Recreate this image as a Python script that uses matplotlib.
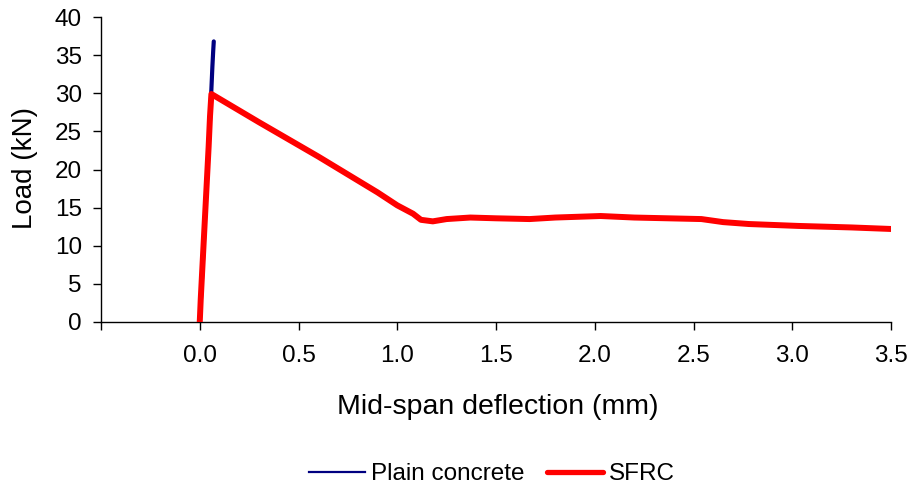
import matplotlib
matplotlib.use("Agg")
import matplotlib.pyplot as plt
from matplotlib.lines import Line2D

plt.rcParams['font.family'] = ['Liberation Sans', 'DejaVu Sans']

plain_x = [0.0, 0.01, 0.02, 0.03, 0.04, 0.05, 0.058, 0.064, 0.068, 0.071]
plain_y = [0.0, 5.0, 10.0, 15.5, 20.5, 25.5, 30.0, 33.5, 35.5, 36.8]

sfrc_x = [0.0, 0.005, 0.015, 0.025, 0.035, 0.045, 0.052, 0.059, 0.3, 0.6, 0.9, 1.0,
          1.08, 1.12, 1.18, 1.25, 1.37, 1.5, 1.67, 1.8, 2.03, 2.2, 2.54, 2.65, 2.78,
          3.03, 3.3, 3.5]
sfrc_y = [0.0, 3.0, 8.0, 13.0, 18.0, 23.0, 27.0, 29.9, 26.2, 21.7, 17.0, 15.3,
          14.2, 13.4, 13.2, 13.5, 13.7, 13.6, 13.5, 13.7, 13.9, 13.7, 13.5, 13.1, 12.85,
          12.6, 12.4, 12.2]

series_names = ['Plain concrete', 'SFRC']
xticks = [0.0, 0.5, 1.0, 1.5, 2.0, 2.5, 3.0, 3.5]
yticks = [0, 5, 10, 15, 20, 25, 30, 35, 40]

W, H = 911, 488
fig = plt.figure(figsize=(W/100, H/100), dpi=100)
ax = fig.add_axes([101/W, 1-322/H, (891-101)/W, (322-17)/H])

ax.plot(plain_x, plain_y, color='#000080', lw=3.0, solid_capstyle='round', zorder=2)
ax.plot(sfrc_x, sfrc_y, color='#ff0000', lw=4.3, solid_capstyle='round',
        solid_joinstyle='round', zorder=3)

ax.set_xlim(-0.5, 3.5)
ax.set_ylim(0, 40)
ax.set_xticks([-0.5] + xticks)
ax.set_xticklabels([''] + [f'{v:.1f}' for v in xticks])
ax.set_yticks(yticks)
ax.tick_params(axis='both', labelsize=17.5, length=5.8, width=1, direction='out', colors='black')
ax.tick_params(axis='x', pad=11)
ax.tick_params(axis='y', pad=8)
for s in ['top', 'right']:
    ax.spines[s].set_visible(False)
for s in ['left', 'bottom']:
    ax.spines[s].set_linewidth(1)

fig.text(498/W, 1-414/H, 'Mid-span deflection (mm)', fontsize=20.5, ha='center', va='baseline')
fig.text(24.7/W, 1-168/H, 'Load (kN)', fontsize=20, ha='center', va='center', rotation=90)

handles = [Line2D([], [], color='#000080', lw=1.6),
           Line2D([], [], color='#ff0000', lw=3.8, solid_capstyle='round')]
fig.legend(handles, series_names, loc='center', bbox_to_anchor=(492/W, 1-474/H),
           ncol=2, frameon=False, fontsize=17.5, handlelength=2.3, handletextpad=0.25,
           columnspacing=0.9, borderpad=0, borderaxespad=0)

fig.savefig('out.png', dpi=100)
